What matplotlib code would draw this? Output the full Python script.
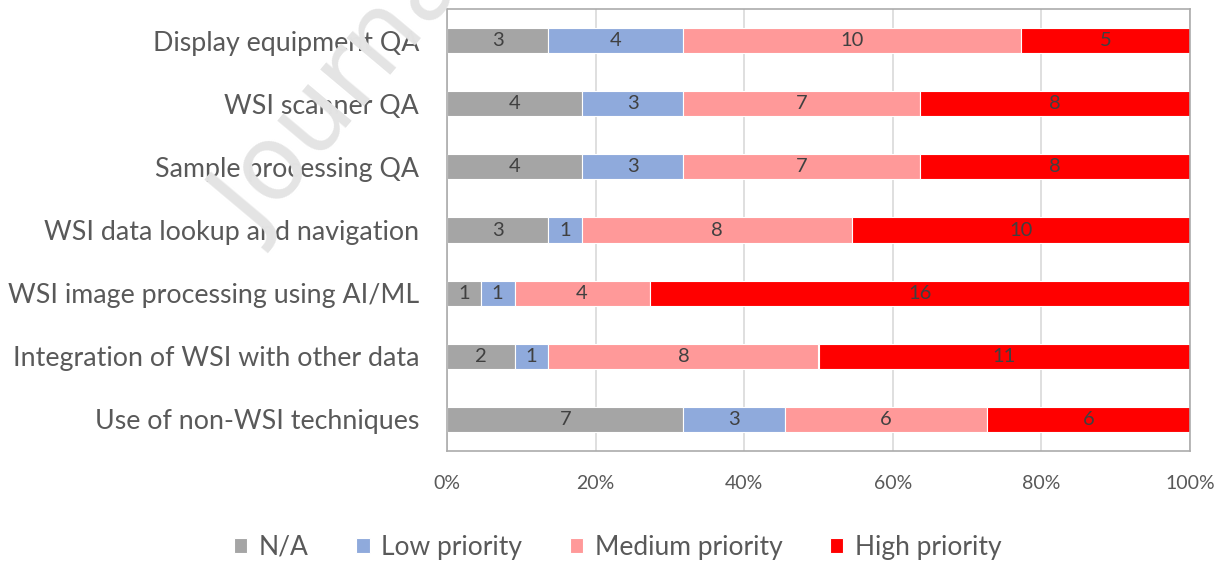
import numpy as np
import matplotlib.pyplot as plt

categories = ['Display equipment QA', 'WSI scanner QA', 'Sample processing QA',
              'WSI data lookup and navigation', 'WSI image processing using AI/ML',
              'Integration of WSI with other data', 'Use of non-WSI techniques']
series = ['N/A', 'Low priority', 'Medium priority', 'High priority']
na = [3, 4, 4, 3, 1, 2, 7]
low = [4, 3, 3, 1, 1, 1, 3]
medium = [10, 7, 7, 8, 4, 8, 6]
high = [5, 8, 8, 10, 16, 11, 6]
colors = ['#A5A5A5', '#8FAADC', '#FF9999', '#FF0000']

plt.rcParams['font.family'] = ['Lato', 'DejaVu Sans']
text_col = '#595959'

counts = np.array([na, low, medium, high], dtype=float)
pct = counts / counts.sum(axis=0) * 100

fig = plt.figure(figsize=(12.31, 5.62), dpi=100)
ax = fig.add_axes([447 / 1231, 1 - 451 / 562, (1190 - 447) / 1231, (451 - 9) / 562])

y = np.arange(len(categories))
left = np.zeros(len(categories))
for i, name in enumerate(series):
    ax.barh(y, pct[i], left=left, height=0.4, color=colors[i], label=name,
            edgecolor='white', linewidth=0.8, zorder=2)
    for j in range(len(categories)):
        ax.text(left[j] + pct[i][j] / 2, y[j], str(int(counts[i][j])),
                ha='center', va='center', fontsize=14.5, color='#404040', zorder=3)
    left += pct[i]

ax.set_xlim(0, 100)
ax.set_ylim(len(categories) - 0.5, -0.5)
ax.set_yticks(y)
ax.set_yticklabels(categories, fontsize=19.3, color=text_col)
ax.set_xticks(np.arange(0, 101, 20))
ax.set_xticklabels([f'{v}%' for v in range(0, 101, 20)], fontsize=14, color=text_col)
ax.tick_params(axis='both', length=0)
ax.tick_params(axis='y', pad=20)
ax.tick_params(axis='x', pad=17)
ax.grid(axis='x', color='#D9D9D9', linewidth=1.2, zorder=0)
for s in ax.spines.values():
    s.set_color('#ABABAB')
    s.set_linewidth(1.2)

fig.legend(loc='center', bbox_to_anchor=(0.502, 1 - 547 / 562), ncol=4, frameon=False,
           fontsize=19, handlelength=0.5, handleheight=0.5, handletextpad=0.45,
           columnspacing=1.8, labelcolor=text_col)

# faint watermark crossing the labels at top left
fig.text(258 / 1231, 1 - 240 / 562, 'Journal Pre-proof', rotation=50, fontsize=75,
         family='DejaVu Sans', color='#E4E4E4', ha='left', va='baseline',
         rotation_mode='anchor', zorder=10)

fig.savefig('out.png', dpi=100)
